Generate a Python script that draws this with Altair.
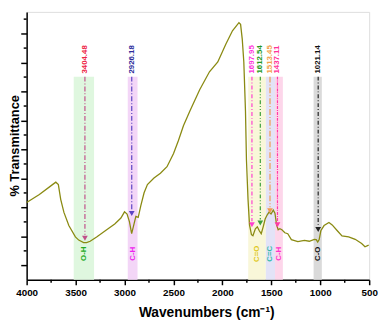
import altair as alt
import pandas as pd

# ---- spectrum ----
wavenumber = [4000, 3870, 3736, 3702, 3676, 3652, 3619, 3569, 3502, 3468, 3418, 3388, 3351, 3285,
              3168, 3100, 3037, 3000, 2974, 2950, 2927, 2907, 2884, 2860, 2834, 2800, 2766, 2699,
              2633, 2566, 2499, 2449, 2398, 2332, 2232, 2132, 2047, 1964, 1897, 1831, 1814, 1797,
              1781, 1764, 1754, 1738, 1723, 1703, 1688, 1663, 1643, 1623, 1603, 1583, 1563, 1543,
              1523, 1503, 1480, 1463, 1446, 1430, 1413, 1392, 1362, 1332, 1295, 1229, 1162, 1112,
              1061, 1041, 1026, 1011, 994, 961, 911, 878, 828, 778, 710, 643, 577, 543, 505]
transmittance = [21.67, 24.48, 27.87, 28.71, 27.87, 22.78, 18.28, 13.74, 9.81, 8.72, 7.88, 7.88, 8.32, 9.81,
                 12.62, 14.31, 16.35, 18.48, 17.70, 15.09, 10.92, 13.74, 16.92, 16.58, 20.51, 25.05, 27.87, 30.14,
                 31.83, 34.07, 38.61, 43.11, 48.19, 53.28, 60.63, 66.83, 70.22, 76.42, 80.96, 83.77, 83.20, 78.11,
                 70.22, 53.28, 36.34, 22.78, 13.97, 10.59, 10.25, 12.62, 13.30, 11.94, 10.92, 13.30, 16.01, 17.36,
                 18.38, 17.70, 19.06, 18.04, 13.97, 12.28, 12.62, 12.28, 11.26, 10.92, 8.89, 8.21, 8.65, 8.32,
                 8.99, 8.89, 8.04, 8.89, 11.94, 13.74, 14.82, 13.97, 12.04, 10.15, 9.81, 8.99, 7.54, 6.42, 6.96]

# ---- peak markers ----
peak_wn = [3404.48, 2926.18, 1697.95, 1612.54, 1513.45, 1437.11, 1021.14]
peak_text = ["3404.48", "2926.18", "1697.95", "1612.54", "1513.45", "1437.11", "1021.14"]
peak_arrow = [9.33, 17.87, 14.04, 14.65, 18.82, 14.04, 12.35]
peak_text_color = ["#ee2244", "#2b2b9b", "#ff33dd", "#229922", "#f5a04a", "#ff3399", "#111111"]
peak_line_color = ["#c0508a", "#5b43c4", "#ff3fd0", "#3a9e3a", "#f29a4a", "#ff3aa8", "#222222"]
peak_dash = [[5, 2, 1, 2], [5, 2, 1, 2], [4, 2, 1, 2], [4, 2, 1, 2, 1, 2], [6, 2, 1, 2], [3, 1, 1, 1], [4, 2, 1, 2]]

# ---- highlighted bands ----
band_start = [3519, 2967, 1736, 1556, 1462, 1068]
band_end = [3311, 2867, 1556, 1462, 1382, 984]
band_color = ["#dff7df", "#f3d6f7", "#f9f7d9", "#e3e3f7", "#fdd6ea", "#dadada"]
band_label = ["O-H", "C-H", "C=O", "C=C", "C-H", "C-O"]
band_label_x = [3415, 2917, 1646, 1509, 1422, 1026]
band_label_color = ["#22aa22", "#ee22ee", "#e0c820", "#33bbaa", "#ff33cc", "#111111"]
band_top = 65.14
band_bottom = -5
peak_label_base = 66.2
band_label_y = 4.0

x_major = [4000, 3500, 3000, 2500, 2000, 1500, 1000, 500]
x_minor = [3750, 3250, 2750, 2250, 1750, 1250, 750]
y_major = [0, 10, 20, 30, 40, 50, 60, 70, 80]
y_minor = [5, 15, 25, 35, 45, 55, 65, 75, 85]

FONT = "Liberation Sans"
xs = alt.Scale(domain=[4000, 500], nice=False, zero=False)
ys = alt.Scale(domain=[-5, 87.5], nice=False, zero=False)

x_axis = alt.Axis(values=x_major, title="Wavenumbers (cm⁻¹)", grid=False, tickSize=5, tickWidth=1.5,
                  domainWidth=1.5, domainColor="black", tickColor="black", labelFont=FONT,
                  labelFontWeight="bold", labelFontSize=10, labelColor="black", labelPadding=3,
                  labelFlush=False, format="d", titleFont=FONT, titleFontWeight="bold", titleFontSize=14,
                  titleColor="black", titleX=183, titleY=37, titleBaseline="alphabetic", titleAnchor="start",
                  titleAlign="center")
y_axis = alt.Axis(values=y_major, labels=False, title="% Transmittance", grid=False, tickSize=6,
                  tickWidth=1.5, domainWidth=1.5, domainColor="black", tickColor="black",
                  titleFont=FONT, titleFontWeight="bold", titleFontSize=13, titleColor="black",
                  titleAngle=270, titleX=-12, titleY=136, titleAlign="center", titleBaseline="middle")

df_curve = pd.DataFrame({"wn": wavenumber, "t": transmittance, "i": range(len(wavenumber))})
df_band = pd.DataFrame({"a": band_start, "b": band_end, "c": band_color,
                        "lo": [band_bottom] * len(band_start), "hi": [band_top] * len(band_start)})
df_blab = pd.DataFrame({"x": band_label_x, "lab": band_label, "c": band_label_color,
                        "y": [band_label_y] * len(band_label)})
df_peak = pd.DataFrame({"wn": peak_wn, "lab": peak_text, "tc": peak_text_color, "lc": peak_line_color,
                        "arrow": peak_arrow, "top": [band_top] * len(peak_wn),
                        "ly": [peak_label_base] * len(peak_wn)})
df_peak["end"] = df_peak["arrow"] + 1.2

bands = alt.Chart(df_band).mark_rect(opacity=1).encode(
    x=alt.X("a:Q", scale=xs, axis=x_axis), x2="b:Q",
    y=alt.Y("lo:Q", scale=ys, axis=y_axis), y2="hi:Q",
    color=alt.Color("c:N", scale=None))

curve = alt.Chart(df_curve).mark_line(color="#8a8a12", strokeWidth=1.3).encode(
    x=alt.X("wn:Q", scale=xs, axis=x_axis), y=alt.Y("t:Q", scale=ys, axis=y_axis), order="i:Q")

layers = [bands, curve]
for k in range(len(peak_wn)):
    sub = df_peak.iloc[[k]]
    layers.append(alt.Chart(sub).mark_rule(strokeWidth=1.2, strokeDash=peak_dash[k], color=peak_line_color[k]).encode(
        x=alt.X("wn:Q", scale=xs, axis=x_axis), y=alt.Y("top:Q", scale=ys, axis=y_axis), y2="end:Q"))

tri = alt.Chart(df_peak).mark_point(shape="triangle-down", filled=True, size=34, opacity=1).encode(
    x=alt.X("wn:Q", scale=xs, axis=x_axis), y=alt.Y("arrow:Q", scale=ys, axis=y_axis),
    color=alt.Color("lc:N", scale=None))

ptext = alt.Chart(df_peak).mark_text(angle=270, align="left", baseline="middle", font=FONT,
                                      fontWeight="bold", fontSize=8).encode(
    x=alt.X("wn:Q", scale=xs, axis=x_axis), y=alt.Y("ly:Q", scale=ys, axis=y_axis),
    text="lab:N", color=alt.Color("tc:N", scale=None))

btext = alt.Chart(df_blab).mark_text(angle=270, align="center", baseline="middle", font=FONT,
                                      fontWeight="bold", fontSize=8).encode(
    x=alt.X("x:Q", scale=xs, axis=x_axis), y=alt.Y("y:Q", scale=ys, axis=y_axis),
    text="lab:N", color=alt.Color("c:N", scale=None))

xminor = alt.Chart(pd.DataFrame({"v": x_minor})).mark_rule(color="black", strokeWidth=1.5).encode(
    x=alt.X("v:Q", scale=xs, axis=x_axis), y=alt.value(273), y2=alt.value(276))
yminor = alt.Chart(pd.DataFrame({"v": y_minor})).mark_rule(color="black", strokeWidth=1.5).encode(
    y=alt.Y("v:Q", scale=ys, axis=y_axis), x=alt.value(0), x2=alt.value(-3))

layers += [tri, ptext, btext, xminor, yminor]

chart = alt.layer(*layers).properties(
    width=349, height=273,
    autosize=alt.AutoSizeParams(type="none"),
    padding={"left": 19, "top": 1, "right": 10, "bottom": 40},
).configure_view(stroke="black", strokeWidth=1.5).configure(background="white")

chart.save("out.html", embed_options={"renderer": "svg", "actions": False})
